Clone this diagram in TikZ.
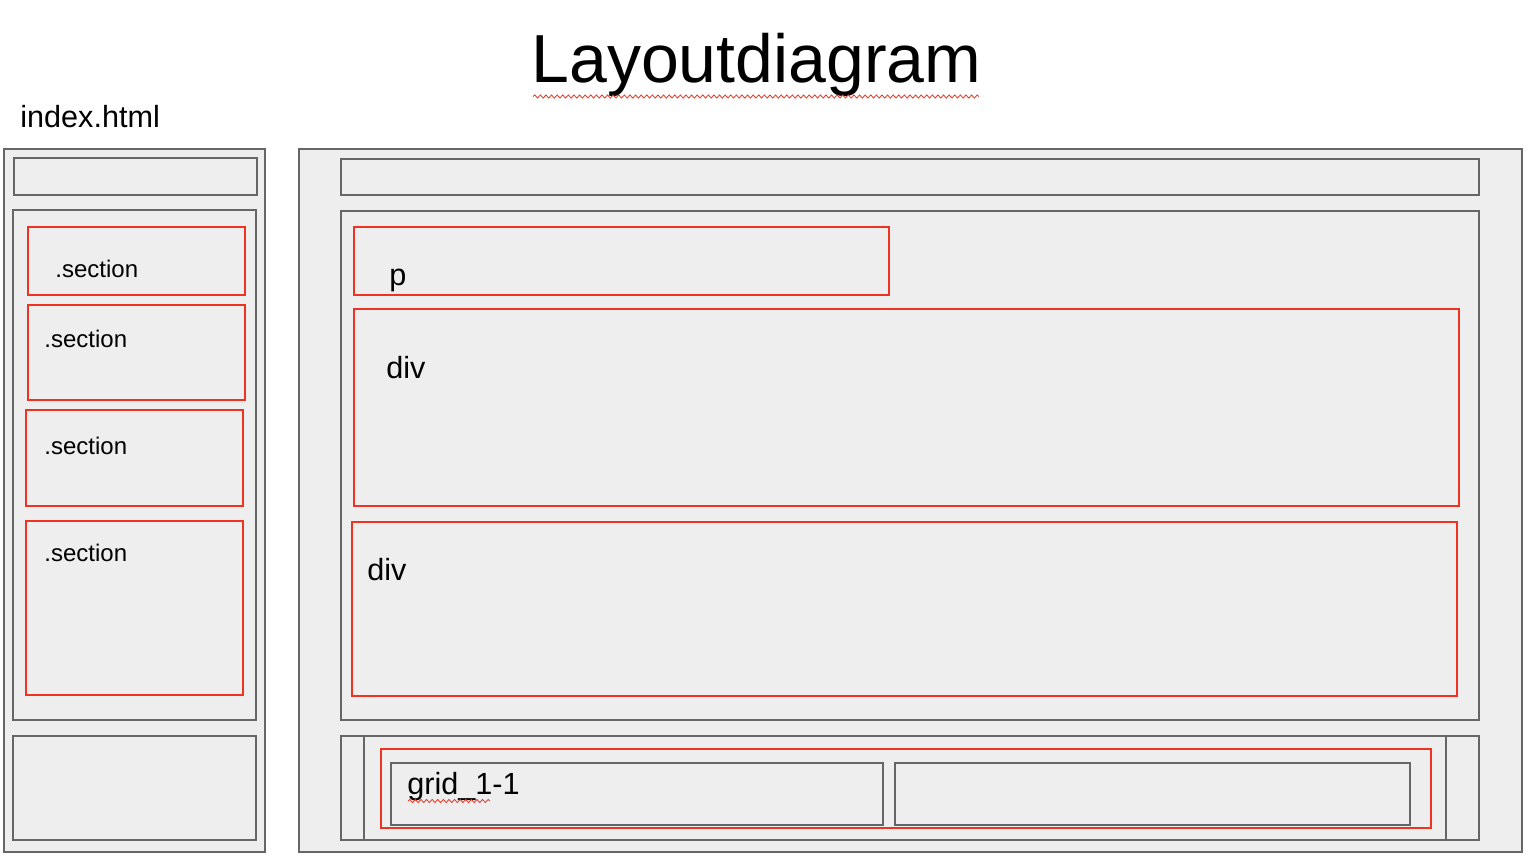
\documentclass[tikz,border=0pt]{standalone}
\usepackage{fontspec}
\setmainfont{Liberation Sans}
\usetikzlibrary{decorations.pathmorphing}
\definecolor{boxfill}{HTML}{EEEEEE}
\definecolor{boxline}{HTML}{666666}
\definecolor{redline}{HTML}{EE3322}
\tikzset{
  graybox/.style={draw=boxline, fill=boxfill, line width=1pt},
  redbox/.style={draw=redline, line width=0.8pt},
  lbl/.style={anchor=base west, inner sep=0pt, font=\fontsize{12}{14}\selectfont},
  big/.style={anchor=base west, inner sep=0pt, font=\fontsize{15.3}{18}\selectfont},
  squig/.style={draw=redline, line width=0.4pt, decorate, decoration={snake, segment length=2.8pt, amplitude=0.8pt}}
}
\begin{document}
\begin{tikzpicture}[x=0.5pt, y=-0.5pt]
\useasboundingbox (0,0) rectangle (1538,864);
% title
\node[anchor=base west, inner sep=0pt, font=\fontsize{34}{40}\selectfont] (title) at (531,82) {Layoutdiagram};
\draw[squig] (533,96.5) -- (979,96.5);
\node[big] (file) at (20,127) {index.html};
% left column
\draw[graybox] (4,149) rectangle (265,852);
\draw[graybox] (14,158) rectangle (257,195);
\draw[graybox] (13,210) rectangle (256,720);
\draw[redbox] (28,227) rectangle (245,295);
\draw[redbox] (28,305) rectangle (245,400);
\draw[redbox] (26,410) rectangle (243,506);
\draw[redbox] (26,521) rectangle (243,695);
\node[lbl] (s1) at (55,277) {.section};
\node[lbl] (s2) at (44,347) {.section};
\node[lbl] (s3) at (44,454) {.section};
\node[lbl] (s4) at (44,561) {.section};
\draw[graybox] (13,736) rectangle (256,840);
% right column
\draw[graybox] (299,149) rectangle (1522,852);
\draw[graybox] (341,159) rectangle (1479,195);
\draw[graybox] (341,211) rectangle (1479,720);
\draw[redbox] (354,227) rectangle (889,295);
\node[big] (p) at (389,285) {p};
\draw[redbox] (354,309) rectangle (1459,506);
\node[big] (div1) at (386,378) {div};
\draw[redbox] (352,522) rectangle (1457,696);
\node[big] (div2) at (367,580) {div};
% footer
\draw[graybox] (341,736) rectangle (1479,840);
\draw[boxline, line width=1pt] (364,736) -- (364,840);
\draw[boxline, line width=1pt] (1446,736) -- (1446,840);
\draw[redbox] (381,749) rectangle (1431,828);
\draw[graybox] (391,763) rectangle (883,825);
\draw[graybox] (895,763) rectangle (1410,825);
\node[big] (grid) at (407,794) {grid\_1-1};
\draw[squig] (408,801) -- (490,801);
\end{tikzpicture}
\end{document}
